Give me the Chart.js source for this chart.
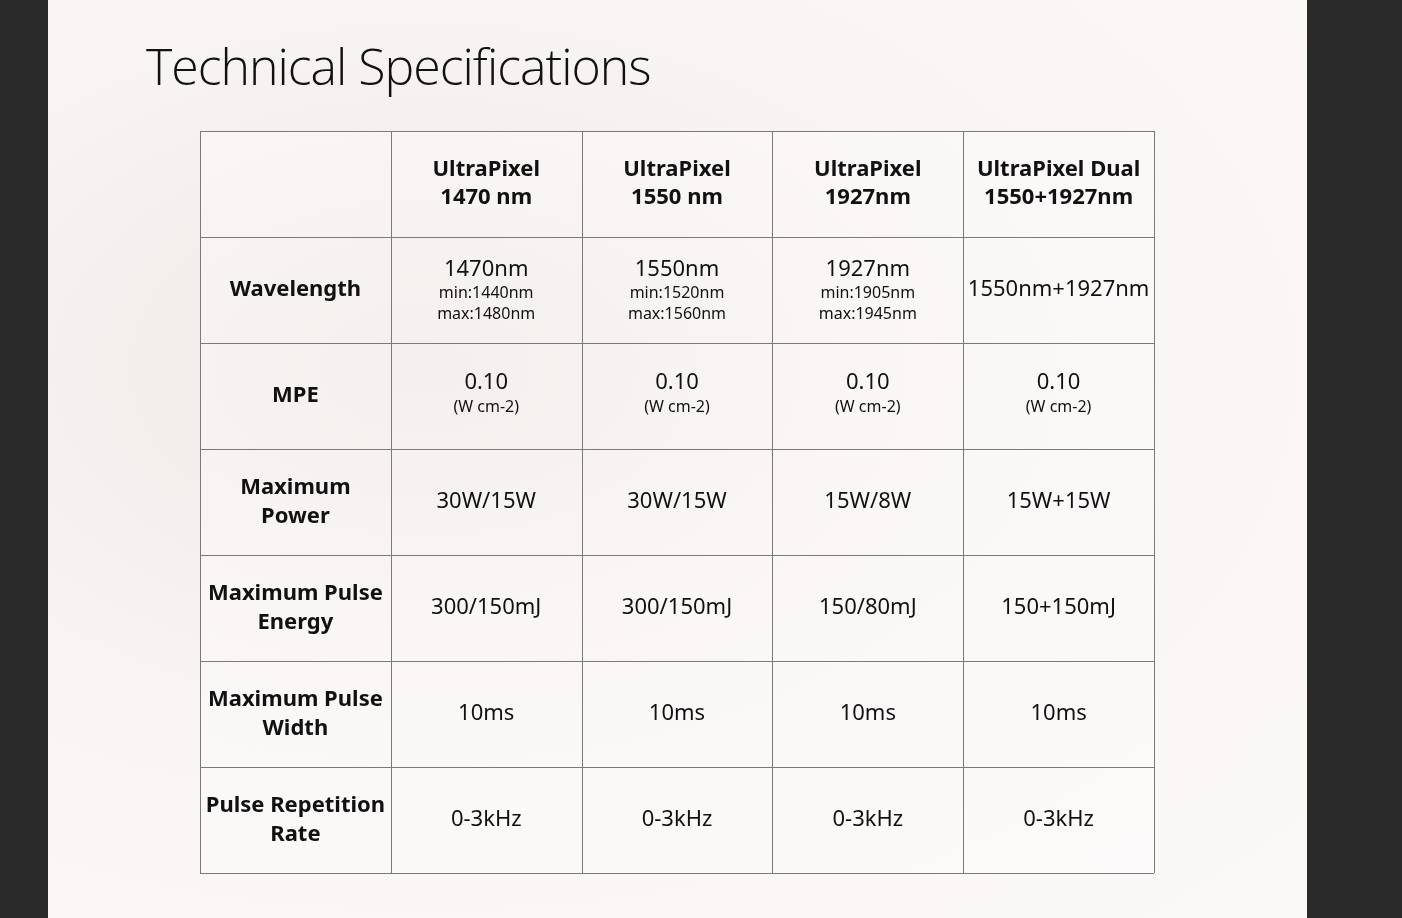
<!DOCTYPE html>
<html><head><meta charset="utf-8">
<script src="https://cdn.jsdelivr.net/npm/chart.js@4"></script>
<style>
html,body{margin:0;padding:0;background:#2a2a2a;width:1402px;height:918px;overflow:hidden}
#panel{position:absolute;left:48px;top:0;width:1259px;height:918px;background:radial-gradient(ellipse at 30% 40%,#efe8e6 0%,#f8f4f3 45%,#fbf9f8 100%)}
h1{position:absolute;left:146px;top:32px;margin:0;font:300 50px "Open Sans",sans-serif;letter-spacing:-1px;color:#111}
canvas{position:absolute;left:0;top:0}
</style></head><body>
<div id="panel"></div>
<h1>Technical Specifications</h1>
<div style="position:absolute;left:0;top:0;width:1402px;height:918px"><canvas id="t"></canvas></div>
<script>
const columns=['','UltraPixel\n1470 nm','UltraPixel\n1550 nm','UltraPixel\n1927nm','UltraPixel Dual\n1550+1927nm'];
const rowLabels=['Wavelength','MPE','Maximum\nPower','Maximum Pulse\nEnergy','Maximum Pulse\nWidth','Pulse Repetition\nRate'];
const wavelength=[['1470nm','min:1440nm','max:1480nm'],['1550nm','min:1520nm','max:1560nm'],['1927nm','min:1905nm','max:1945nm'],['1550nm+1927nm']];
const mpe=[['0.10','(W cm-2)'],['0.10','(W cm-2)'],['0.10','(W cm-2)'],['0.10','(W cm-2)']];
const maxPower=['30W/15W','30W/15W','15W/8W','15W+15W'];
const pulseEnergy=['300/150mJ','300/150mJ','150/80mJ','150+150mJ'];
const pulseWidth=['10ms','10ms','10ms','10ms'];
const repRate=['0-3kHz','0-3kHz','0-3kHz','0-3kHz'];
const rows=[wavelength,mpe,maxPower.map(v=>[v]),pulseEnergy.map(v=>[v]),pulseWidth.map(v=>[v]),repRate.map(v=>[v])];

const F='"Noto Sans",sans-serif';
const tablePlugin={id:'table',afterDraw(c){
  const ctx=c.ctx,x=c.scales.x,y=c.scales.y;
  ctx.save();
  ctx.fillStyle='rgba(255,255,255,0.35)';
  ctx.fillRect(x.getPixelForValue(0),y.getPixelForValue(0),x.getPixelForValue(5)-x.getPixelForValue(0),y.getPixelForValue(7)-y.getPixelForValue(0));
  ctx.strokeStyle='#7a7a7a';ctx.lineWidth=1;
  for(let i=0;i<=5;i++){const px=Math.round(x.getPixelForValue(i))+0.5;ctx.beginPath();ctx.moveTo(px,y.getPixelForValue(0));ctx.lineTo(px,y.getPixelForValue(7));ctx.stroke();}
  for(let j=0;j<=7;j++){const py=Math.round(y.getPixelForValue(j))+0.5;ctx.beginPath();ctx.moveTo(x.getPixelForValue(0),py);ctx.lineTo(x.getPixelForValue(5),py);ctx.stroke();}
  ctx.textAlign='center';ctx.textBaseline='middle';ctx.fillStyle='#111';
  const lines=(txt,col,row,font,lh)=>{const l=txt.split('\n');const cx=x.getPixelForValue(col+0.5),cy=y.getPixelForValue(row+0.5);ctx.font=font;l.forEach((s,k)=>ctx.fillText(s,cx,cy+(k-(l.length-1)/2)*lh));};
  columns.forEach((h,i)=>lines(h,i,0,'bold 22px '+F,28));
  rowLabels.forEach((h,j)=>lines(h,0,j+1,'bold 22px '+F,29));
  rows.forEach((r,j)=>r.forEach((cell,i)=>{
    const cx=x.getPixelForValue(i+1.5),cy=y.getPixelForValue(j+1.5);
    if(cell.length===1){ctx.font='22px '+F;ctx.fillText(cell[0],cx,cy);}
    else if(cell.length===2){ctx.font='22px '+F;ctx.fillText(cell[0],cx,cy-13);ctx.font='16px '+F;ctx.fillText(cell[1],cx,cy+11);}
    else{ctx.font='22px '+F;ctx.fillText(cell[0],cx,cy-20);ctx.font='16px '+F;ctx.fillText(cell[1],cx,cy+3);ctx.fillText(cell[2],cx,cy+24);}
  }));
  ctx.restore();
}};
new Chart(document.getElementById('t'),{
  type:'scatter',
  data:{datasets:[{data:[],pointRadius:0}]},
  options:{responsive:true,maintainAspectRatio:false,animation:false,
    layout:{padding:{left:200,right:248,top:131,bottom:45}},
    plugins:{legend:{display:false},tooltip:{enabled:false}},
    scales:{x:{type:'linear',min:0,max:5,display:false},y:{type:'linear',min:0,max:7,reverse:true,display:false}}},
  plugins:[tablePlugin]
});
</script>
</body></html>
